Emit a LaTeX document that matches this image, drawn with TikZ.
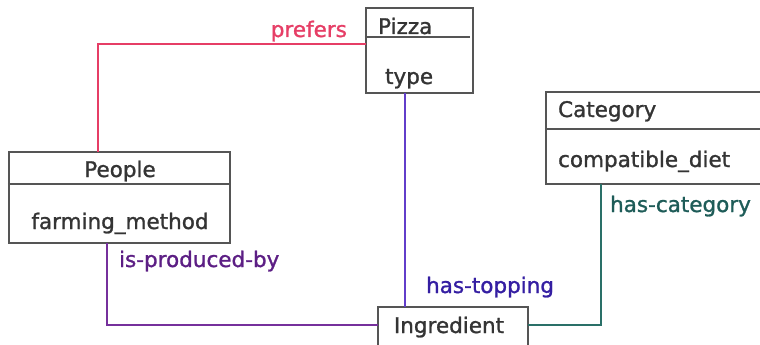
\documentclass[tikz,border=0pt]{standalone}
\usepackage{fontspec}
\setmainfont[FakeBold=1.2,AutoFakeBold=1.2]{DejaVu Sans}
\usetikzlibrary{positioning}

\definecolor{boxgray}{RGB}{85,85,85}
\definecolor{inkgray}{RGB}{52,52,52}
\definecolor{prefcolor}{RGB}{230,62,102}
\definecolor{producedcolor}{RGB}{118,48,156}
\definecolor{producedtext}{RGB}{92,30,132}
\definecolor{toppingcolor}{RGB}{98,62,202}
\definecolor{toppingtext}{RGB}{52,30,162}
\definecolor{categorycolor}{RGB}{42,112,104}
\definecolor{categorytext}{RGB}{30,92,88}

\begin{document}
\begin{tikzpicture}[x=1pt, y=-1pt, line width=2.2pt,
	entity/.style={draw=boxgray, fill=white, inner sep=0pt},
	divider/.style={draw=boxgray},
	field/.style={text=inkgray, inner sep=0pt, font=\fontsize{21.5}{24}\selectfont},
	relation/.style={inner sep=0pt, font=\fontsize{21.5}{24}\selectfont\bfseries},
	link/.style={line cap=rect}
]
	\useasboundingbox (0,0) rectangle (760,345);

	% entities
	\node[entity, minimum width=107pt, minimum height=85pt] (pizza) at (419.5,50.5) {};
	\node[entity, minimum width=221pt, minimum height=91pt] (people) at (119.5,197.5) {};
	\node[entity, minimum width=216pt, minimum height=92pt] (category) at (654,138) {};
	\node[entity, minimum width=150pt, minimum height=46pt] (ingredient) at (453,330) {};

	% dividers
	\draw[divider] (pizza.west |- 0,37) -- (470,37);
	\draw[divider] (people.west |- 0,184) -- (people.east |- 0,184);
	\draw[divider] (category.west |- 0,129) -- (category.east |- 0,129);

	% fields
	\node[field, anchor=base west] (pizzaname) at (377,34) {Pizza};
	\node[field, anchor=base west] (pizzatype) at (384,84) {type};
	\node[field, anchor=base] (peoplename) at (120,177) {People};
	\node[field, anchor=base] (peoplemethod) at (120,229) {farming\_method};
	\node[field, anchor=base west] (categoryname) at (557,117) {Category};
	\node[field, anchor=base west] (categorydiet) at (557,167) {compatible\_diet};
	\node[field, anchor=base] (ingredientname) at (449,333) {Ingredient};

	% relations
	\draw[link, prefcolor] ([yshift=6.5pt]pizza.west) -| ([xshift=-21.5pt]people.north);
	\draw[link, producedcolor] ([xshift=-12.5pt]people.south) |- ([yshift=5pt]ingredient.west);
	\draw[link, toppingcolor] ([xshift=-14.5pt]pizza.south) -- ([xshift=-14.5pt]pizza.south |- ingredient.north);
	\draw[link, categorycolor] ([xshift=-53pt]category.south) |- ([yshift=5pt]ingredient.east);

	% labels
	\node[relation, text=prefcolor, anchor=base east] (prefers) at (348,37) {prefers};
	\node[relation, text=producedtext, anchor=base west] (producedby) at (118,267) {is-produced-by};
	\node[relation, text=toppingtext, anchor=base west] (hastopping) at (425,293) {has-topping};
	\node[relation, text=categorytext, anchor=base west] (hascategory) at (609,212) {has-category};
\end{tikzpicture}
\end{document}
